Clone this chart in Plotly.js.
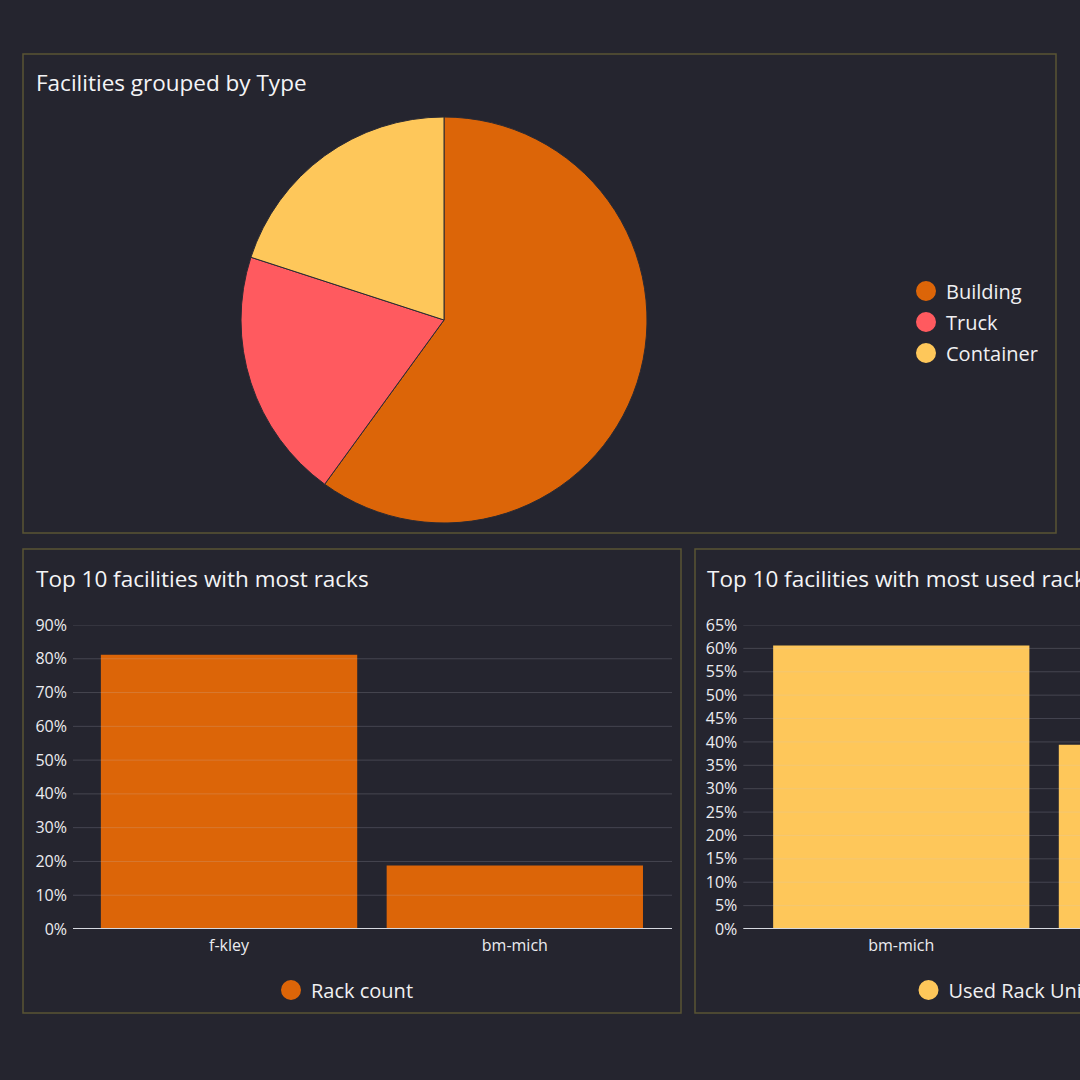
<!DOCTYPE html>
<html><head><meta charset="utf-8">
<script src="https://cdn.plot.ly/plotly-3.0.1.min.js"></script>
<style>html,body{margin:0;padding:0;background:#25252f;overflow:hidden;}#chart{width:1080px;height:1080px;overflow:hidden;}</style>
</head><body><div id="chart"></div>
<script>
// ---- data ----
const typeLabels = ['Building', 'Truck', 'Container'];
const typeCounts = [3, 1, 1];
const typeColors = ['#dc6508', '#ff5a5f', '#fec75a'];

const rackFacilities = ['f-kley', 'bm-mich'];
const rackCountPct = [81.2, 18.8];
const rackSeriesName = 'Rack count';
const rackColor = '#dc6508';
const rackTicks = [0, 10, 20, 30, 40, 50, 60, 70, 80, 90];

const usedFacilities = ['bm-mich', 'f-kley'];
const usedPct = [60.6, 39.4];
const usedSeriesName = 'Used Rack Units';
const usedColor = '#fec75a';
const usedTicks = [0, 5, 10, 15, 20, 25, 30, 35, 40, 45, 50, 55, 60, 65];

const titles = ['Facilities grouped by Type', 'Top 10 facilities with most racks', 'Top 10 facilities with most used racks'];

// ---- layout helpers ----
const W = 1080;
const X = p => p / W;
const Y = p => 1 - p / W;
const FONT = 'Open Sans, Noto Sans, sans-serif';
const TXT = '#ececf0';
const BG = '#25252f';
const BORDER = '#5a5434';

const traces = [];

traces.push({
  type: 'pie', labels: typeLabels, values: typeCounts,
  marker: {colors: typeColors, line: {color: '#2a2a33', width: 1}},
  sort: false, direction: 'clockwise', rotation: 0,
  textinfo: 'none', hoverinfo: 'label+value', showlegend: false,
  domain: {x: [X(241), X(647)], y: [Y(523), Y(117)]}
});
// legend entries (circle symbols) for pie
typeLabels.forEach((lab, i) => {
  traces.push({
    type: 'scatter', mode: 'markers', x: [null], y: [null], name: lab,
    legend: 'legend', legendgroup: 'g' + i,
    marker: {symbol: 'circle', size: 16, color: typeColors[i], line: {color: typeColors[i], width: 4}},
    xaxis: 'x', yaxis: 'y', hoverinfo: 'skip'
  });
});

traces.push({
  type: 'bar', x: rackFacilities, y: rackCountPct, name: rackSeriesName,
  marker: {color: rackColor}, xaxis: 'x', yaxis: 'y', showlegend: false
});
traces.push({
  type: 'scatter', mode: 'markers', x: [null], y: [null], name: rackSeriesName, legend: 'legend2',
  marker: {symbol: 'circle', size: 16, color: rackColor, line: {color: rackColor, width: 4}},
  xaxis: 'x', yaxis: 'y', hoverinfo: 'skip'
});

traces.push({
  type: 'bar', x: usedFacilities, y: usedPct, name: usedSeriesName,
  marker: {color: usedColor}, xaxis: 'x2', yaxis: 'y2', showlegend: false, cliponaxis: true
});
traces.push({
  type: 'scatter', mode: 'markers', x: [null], y: [null], name: usedSeriesName, legend: 'legend3',
  marker: {symbol: 'circle', size: 16, color: usedColor, line: {color: usedColor, width: 4}},
  xaxis: 'x2', yaxis: 'y2', hoverinfo: 'skip'
});

const shapes = [];
// panels
[[23, 54, 1056, 533], [23, 549, 681, 1013], [695, 549, 1400, 1013]].forEach(r => {
  shapes.push({type: 'rect', xref: 'paper', yref: 'paper', x0: X(r[0]), x1: X(r[2]), y0: Y(r[3]), y1: Y(r[1]),
    line: {color: BORDER, width: 1.5}, fillcolor: 'rgba(0,0,0,0)', layer: 'below'});
});
// gridlines drawn over bars
function grid(ticks, xa, ya) {
  ticks.forEach(v => {
    if (v === 0) return;
    shapes.push({type: 'line', xref: xa + ' domain', yref: ya, x0: 0, x1: 1, y0: v, y1: v,
      line: {color: 'rgba(200,200,215,0.2)', width: 1}, layer: 'above'});
  });
  shapes.push({type: 'line', xref: xa + ' domain', yref: ya, x0: 0, x1: 1, y0: 0, y1: 0,
    line: {color: '#d6d9e0', width: 2}, layer: 'above'});
}
grid(rackTicks, 'x', 'y');
grid(usedTicks, 'x2', 'y2');

const annotations = [
  {text: titles[0], x: X(34), y: Y(83)},
  {text: titles[1], x: X(34), y: Y(578)},
  {text: titles[2], x: X(705), y: Y(578)}
].map(a => Object.assign({xref: 'paper', yref: 'paper', xanchor: 'left', yanchor: 'middle', showarrow: false,
  font: {family: FONT, size: 22.5, color: '#f4f4f6'}}, a));

const tickFont = {family: FONT, size: 16, color: TXT};
const axX = {showgrid: false, zeroline: false, showline: false, ticks: '', tickfont: tickFont, fixedrange: true, ticklabelstandoff: 5};
const axY = {showgrid: false, zeroline: false, showline: false, ticks: '', tickfont: tickFont, fixedrange: true, ticklabelstandoff: 5};
const legFont = {family: FONT, size: 20, color: '#f0f0f2'};

const layout = {
  width: 1080, height: 1080,
  margin: {l: 0, r: 0, t: 0, b: 0, autoexpand: false},
  paper_bgcolor: BG, plot_bgcolor: 'rgba(0,0,0,0)',
  font: {family: FONT, color: TXT},
  bargap: 0.103,
  showlegend: true,
  xaxis: Object.assign({}, axX, {domain: [X(73), X(672)], range: [-0.546, 1.55], type: 'category'}),
  yaxis: Object.assign({}, axY, {domain: [Y(929), Y(625)], range: [0, 90], tickvals: rackTicks, ticktext: rackTicks.map(v => v + '%')}),
  xaxis2: Object.assign({}, axX, {domain: [X(743.3), 1], range: [-0.553, (1080 - 901.3) / 285.6], anchor: 'y2', type: 'category'}),
  yaxis2: Object.assign({}, axY, {domain: [Y(929), Y(625)], range: [0, 65], anchor: 'x2', tickvals: usedTicks, ticktext: usedTicks.map(v => v + '%')}),
  legend: {x: X(906), y: Y(322), xanchor: 'left', yanchor: 'middle', font: legFont, bgcolor: 'rgba(0,0,0,0)',
    traceorder: 'grouped', tracegroupgap: 2, itemclick: false},
  legend2: {x: X(271), y: Y(990), xanchor: 'left', yanchor: 'middle', orientation: 'h', font: legFont, bgcolor: 'rgba(0,0,0,0)'},
  legend3: {x: X(908.5), y: Y(990), xanchor: 'left', yanchor: 'middle', orientation: 'h', font: legFont, bgcolor: 'rgba(0,0,0,0)'},
  shapes: shapes,
  annotations: annotations
};

Plotly.newPlot('chart', traces, layout, {displayModeBar: false, staticPlot: true});
</script>
</body></html>
